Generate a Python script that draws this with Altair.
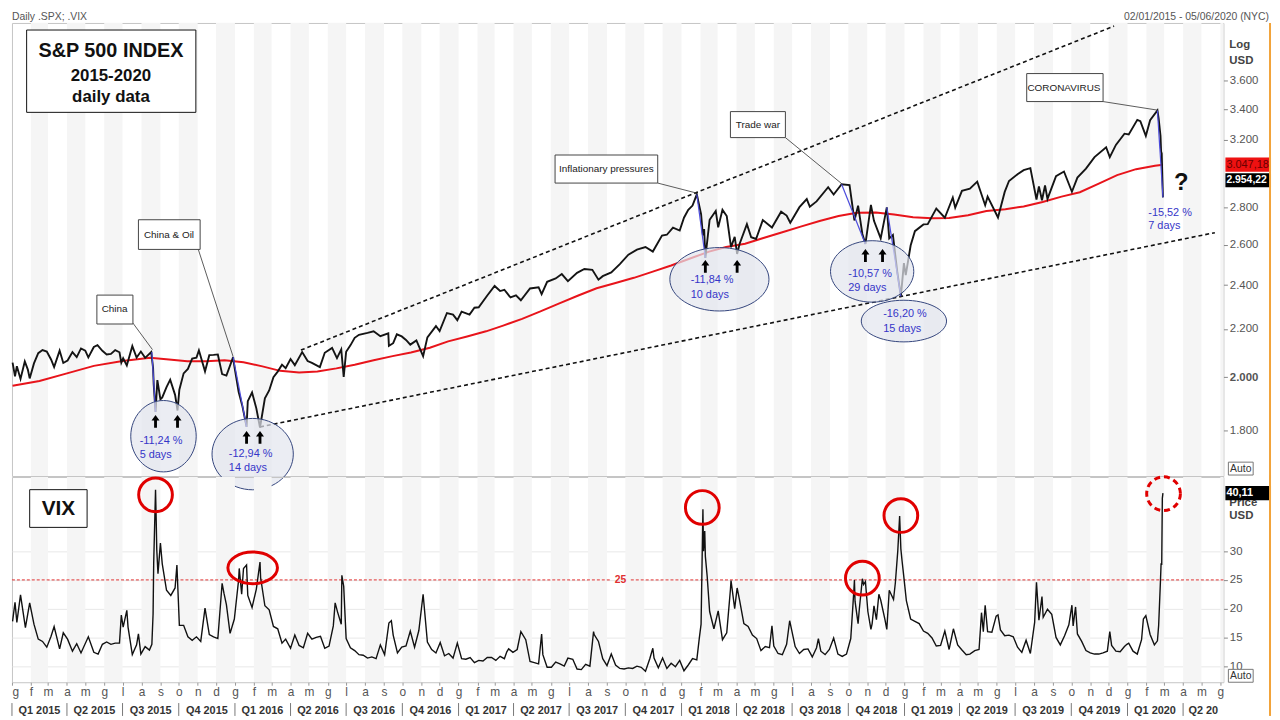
import altair as alt
import pandas as pd

# ---------------- series ----------------
spx_points = [
    ("2015-01-02", 2058), ("2015-01-06", 2003), ("2015-01-09", 2044), ("2015-01-15", 1993),
    ("2015-01-22", 2063), ("2015-01-27", 2030), ("2015-01-30", 1995), ("2015-02-06", 2055),
    ("2015-02-13", 2097), ("2015-02-20", 2110), ("2015-02-27", 2104), ("2015-03-06", 2071),
    ("2015-03-11", 2040), ("2015-03-20", 2108), ("2015-03-26", 2057), ("2015-04-02", 2067),
    ("2015-04-10", 2102), ("2015-04-17", 2081), ("2015-04-24", 2117), ("2015-05-01", 2108),
    ("2015-05-06", 2080), ("2015-05-15", 2123), ("2015-05-21", 2131), ("2015-05-29", 2107),
    ("2015-06-05", 2092), ("2015-06-12", 2094), ("2015-06-19", 2110), ("2015-06-26", 2101),
    ("2015-06-29", 2058), ("2015-07-02", 2076), ("2015-07-08", 2047), ("2015-07-17", 2127),
    ("2015-07-24", 2079), ("2015-07-31", 2104), ("2015-08-07", 2078), ("2015-08-17", 2102),
    ("2015-08-20", 2036), ("2015-08-21", 1971), ("2015-08-24", 1867), ("2015-08-27", 1988),
    ("2015-09-01", 1914), ("2015-09-04", 1921), ("2015-09-11", 1961), ("2015-09-17", 1990),
    ("2015-09-25", 1931), ("2015-09-29", 1872), ("2015-10-02", 1951), ("2015-10-09", 2015),
    ("2015-10-16", 2033), ("2015-10-23", 2075), ("2015-10-30", 2079), ("2015-11-03", 2109),
    ("2015-11-13", 2023), ("2015-11-20", 2089), ("2015-11-27", 2090), ("2015-12-04", 2092),
    ("2015-12-11", 2012), ("2015-12-18", 2006), ("2015-12-29", 2081), ("2015-12-31", 2044),
    ("2016-01-07", 1943), ("2016-01-13", 1890), ("2016-01-20", 1812), ("2016-01-22", 1907),
    ("2016-01-29", 1940), ("2016-02-05", 1880), ("2016-02-11", 1810), ("2016-02-19", 1918),
    ("2016-02-26", 1948), ("2016-03-04", 2000), ("2016-03-11", 2022), ("2016-03-18", 2050),
    ("2016-03-24", 2036), ("2016-04-01", 2073), ("2016-04-08", 2048), ("2016-04-20", 2102),
    ("2016-04-29", 2065), ("2016-05-06", 2057), ("2016-05-19", 2040), ("2016-05-27", 2099),
    ("2016-06-08", 2119), ("2016-06-16", 2077), ("2016-06-23", 2113), ("2016-06-27", 2001),
    ("2016-07-01", 2103), ("2016-07-08", 2130), ("2016-07-15", 2162), ("2016-07-22", 2175),
    ("2016-08-05", 2183), ("2016-08-15", 2190), ("2016-08-26", 2169), ("2016-09-08", 2181),
    ("2016-09-09", 2128), ("2016-09-16", 2139), ("2016-09-22", 2177), ("2016-09-30", 2168),
    ("2016-10-07", 2153), ("2016-10-14", 2133), ("2016-10-24", 2151), ("2016-11-04", 2085),
    ("2016-11-11", 2164), ("2016-11-25", 2213), ("2016-12-01", 2191), ("2016-12-13", 2271),
    ("2016-12-23", 2264), ("2016-12-30", 2239), ("2017-01-06", 2277), ("2017-01-19", 2264),
    ("2017-01-27", 2295), ("2017-02-03", 2297), ("2017-02-17", 2351), ("2017-03-01", 2396),
    ("2017-03-10", 2372), ("2017-03-17", 2378), ("2017-03-27", 2342), ("2017-04-05", 2352),
    ("2017-04-13", 2329), ("2017-04-28", 2384), ("2017-05-12", 2390), ("2017-05-17", 2357),
    ("2017-05-26", 2416), ("2017-06-09", 2432), ("2017-06-19", 2453), ("2017-06-29", 2419),
    ("2017-07-14", 2459), ("2017-07-26", 2478), ("2017-08-08", 2474), ("2017-08-18", 2426),
    ("2017-08-25", 2443), ("2017-09-08", 2461), ("2017-09-22", 2502), ("2017-10-06", 2549),
    ("2017-10-20", 2575), ("2017-11-03", 2588), ("2017-11-15", 2565), ("2017-11-30", 2648),
    ("2017-12-08", 2652), ("2017-12-18", 2690), ("2017-12-29", 2674), ("2018-01-05", 2743),
    ("2018-01-12", 2786), ("2018-01-19", 2810), ("2018-01-26", 2873), ("2018-02-02", 2762),
    ("2018-02-05", 2649), ("2018-02-07", 2682), ("2018-02-09", 2533), ("2018-02-16", 2732),
    ("2018-02-26", 2780), ("2018-03-02", 2691), ("2018-03-09", 2786), ("2018-03-16", 2752),
    ("2018-03-23", 2588), ("2018-03-29", 2641), ("2018-04-02", 2553), ("2018-04-06", 2604),
    ("2018-04-18", 2708), ("2018-04-25", 2639), ("2018-05-03", 2630), ("2018-05-14", 2730),
    ("2018-05-29", 2690), ("2018-06-13", 2776), ("2018-06-22", 2755), ("2018-06-28", 2716),
    ("2018-07-13", 2801), ("2018-07-25", 2846), ("2018-07-30", 2803), ("2018-08-10", 2833),
    ("2018-08-29", 2914), ("2018-09-07", 2872), ("2018-09-20", 2931), ("2018-10-03", 2926),
    ("2018-10-11", 2728), ("2018-10-17", 2809), ("2018-10-24", 2656), ("2018-10-29", 2604),
    ("2018-11-07", 2814), ("2018-11-12", 2726), ("2018-11-23", 2633), ("2018-12-03", 2800),
    ("2018-12-07", 2633), ("2018-12-13", 2651), ("2018-12-20", 2467), ("2018-12-26", 2347),
    ("2018-12-31", 2507), ("2019-01-03", 2448), ("2019-01-11", 2596), ("2019-01-18", 2671),
    ("2019-02-01", 2707), ("2019-02-08", 2708), ("2019-02-22", 2793), ("2019-03-08", 2743),
    ("2019-03-21", 2855), ("2019-03-25", 2798), ("2019-04-05", 2893), ("2019-04-18", 2905),
    ("2019-04-30", 2946), ("2019-05-13", 2812), ("2019-05-17", 2860), ("2019-06-03", 2744),
    ("2019-06-14", 2887), ("2019-06-21", 2950), ("2019-07-05", 2990), ("2019-07-15", 3014),
    ("2019-07-26", 3026), ("2019-08-05", 2844), ("2019-08-09", 2919), ("2019-08-14", 2840),
    ("2019-08-19", 2924), ("2019-08-23", 2847), ("2019-09-06", 2979), ("2019-09-19", 3006),
    ("2019-10-02", 2888), ("2019-10-11", 2970), ("2019-10-25", 3023), ("2019-11-08", 3093),
    ("2019-11-27", 3154), ("2019-12-03", 3093), ("2019-12-13", 3169), ("2019-12-27", 3240),
    ("2020-01-03", 3235), ("2020-01-17", 3330), ("2020-01-22", 3321), ("2020-01-31", 3226),
    ("2020-02-07", 3328), ("2020-02-19", 3393), ("2020-02-21", 3338), ("2020-02-24", 3226),
    ("2020-02-25", 3128), ("2020-02-26", 3116), ("2020-02-27", 2979), ("2020-02-28", 2856),
]

ma200_points = [
    ("2015-01-02", 1966), ("2015-02-15", 1985), ("2015-04-01", 2015), ("2015-05-15", 2045),
    ("2015-07-01", 2065), ("2015-08-15", 2078), ("2015-09-15", 2071), ("2015-10-15", 2064),
    ("2015-11-15", 2064), ("2015-12-15", 2068), ("2016-01-15", 2060), ("2016-02-15", 2043),
    ("2016-03-15", 2025), ("2016-04-15", 2018), ("2016-05-15", 2022), ("2016-06-15", 2035),
    ("2016-07-15", 2050), ("2016-08-15", 2068), ("2016-09-15", 2085), ("2016-10-15", 2100),
    ("2016-11-15", 2120), ("2016-12-15", 2147), ("2017-01-15", 2168), ("2017-02-15", 2190),
    ("2017-03-15", 2215), ("2017-04-15", 2245), ("2017-05-15", 2278), ("2017-06-15", 2315),
    ("2017-07-15", 2350), ("2017-08-15", 2385), ("2017-09-15", 2410), ("2017-10-15", 2435),
    ("2017-11-15", 2465), ("2017-12-15", 2495), ("2018-01-15", 2530), ("2018-02-15", 2565),
    ("2018-03-15", 2588), ("2018-04-15", 2605), ("2018-05-15", 2635), ("2018-06-15", 2665),
    ("2018-07-15", 2695), ("2018-08-15", 2725), ("2018-09-15", 2752), ("2018-10-15", 2770),
    ("2018-11-15", 2772), ("2018-12-15", 2760), ("2019-01-15", 2745), ("2019-02-15", 2740),
    ("2019-03-15", 2742), ("2019-04-15", 2757), ("2019-05-15", 2780), ("2019-06-15", 2790),
    ("2019-07-15", 2805), ("2019-08-15", 2830), ("2019-09-15", 2860), ("2019-10-15", 2885),
    ("2019-11-15", 2935), ("2019-12-15", 2985), ("2020-01-15", 3020), ("2020-02-15", 3040),
    ("2020-02-28", 3047),
]

vix_points = [
    ("2015-01-02", 17.8), ("2015-01-06", 21.1), ("2015-01-09", 17.6), ("2015-01-15", 22.4),
    ("2015-01-23", 16.7), ("2015-01-30", 21.0), ("2015-02-06", 17.3), ("2015-02-13", 14.7),
    ("2015-02-20", 14.3), ("2015-02-27", 13.3), ("2015-03-06", 15.2), ("2015-03-11", 16.9),
    ("2015-03-20", 13.0), ("2015-03-26", 15.8), ("2015-04-02", 14.7), ("2015-04-10", 12.6),
    ("2015-04-17", 13.9), ("2015-04-24", 12.3), ("2015-05-06", 15.1), ("2015-05-15", 12.4),
    ("2015-05-22", 12.1), ("2015-05-29", 13.8), ("2015-06-05", 14.2), ("2015-06-12", 13.8),
    ("2015-06-19", 14.0), ("2015-06-26", 14.0), ("2015-06-29", 18.9), ("2015-07-02", 16.8),
    ("2015-07-08", 19.7), ("2015-07-10", 16.8), ("2015-07-17", 12.0), ("2015-07-24", 13.7),
    ("2015-07-27", 15.6), ("2015-07-31", 12.1), ("2015-08-07", 13.4), ("2015-08-14", 12.8),
    ("2015-08-18", 13.8), ("2015-08-20", 19.1), ("2015-08-21", 28.0), ("2015-08-24", 40.7),
    ("2015-08-25", 36.0), ("2015-08-26", 30.3), ("2015-08-28", 26.1), ("2015-09-01", 31.4),
    ("2015-09-04", 27.8), ("2015-09-11", 23.2), ("2015-09-18", 22.3), ("2015-09-25", 23.6),
    ("2015-09-28", 27.6), ("2015-10-02", 17.1), ("2015-10-09", 17.1), ("2015-10-16", 15.1),
    ("2015-10-23", 14.5), ("2015-10-30", 15.1), ("2015-11-06", 14.3), ("2015-11-13", 20.1),
    ("2015-11-20", 15.5), ("2015-11-27", 15.1), ("2015-12-04", 14.8), ("2015-12-11", 24.4),
    ("2015-12-14", 22.7), ("2015-12-18", 20.7), ("2015-12-24", 15.7), ("2015-12-31", 18.2),
    ("2016-01-07", 25.0), ("2016-01-08", 27.0), ("2016-01-12", 22.5), ("2016-01-15", 27.0),
    ("2016-01-20", 27.6), ("2016-01-22", 22.3), ("2016-01-29", 20.2), ("2016-02-05", 23.4),
    ("2016-02-11", 28.1), ("2016-02-12", 25.4), ("2016-02-19", 20.5), ("2016-02-26", 19.8),
    ("2016-03-04", 16.9), ("2016-03-11", 16.5), ("2016-03-18", 14.0), ("2016-03-24", 14.7),
    ("2016-04-01", 13.1), ("2016-04-08", 15.4), ("2016-04-15", 13.6), ("2016-04-22", 13.2),
    ("2016-04-29", 15.7), ("2016-05-06", 14.7), ("2016-05-13", 15.0), ("2016-05-20", 15.2),
    ("2016-05-27", 13.1), ("2016-06-03", 13.5), ("2016-06-10", 17.0), ("2016-06-13", 21.0),
    ("2016-06-17", 19.4), ("2016-06-23", 17.3), ("2016-06-24", 25.8), ("2016-06-27", 23.9),
    ("2016-07-01", 14.8), ("2016-07-08", 13.2), ("2016-07-15", 12.7), ("2016-07-22", 12.0),
    ("2016-07-29", 11.9), ("2016-08-05", 11.4), ("2016-08-12", 11.6), ("2016-08-19", 11.3),
    ("2016-08-26", 13.7), ("2016-09-02", 12.0), ("2016-09-09", 17.5), ("2016-09-13", 17.9),
    ("2016-09-16", 15.4), ("2016-09-23", 12.3), ("2016-09-30", 13.3), ("2016-10-07", 13.5),
    ("2016-10-14", 16.1), ("2016-10-21", 13.3), ("2016-10-28", 16.2), ("2016-11-04", 22.5),
    ("2016-11-11", 14.2), ("2016-11-18", 12.9), ("2016-11-25", 12.3), ("2016-12-02", 14.1),
    ("2016-12-09", 11.8), ("2016-12-16", 12.2), ("2016-12-23", 11.4), ("2016-12-30", 14.0),
    ("2017-01-06", 11.3), ("2017-01-13", 11.2), ("2017-01-20", 11.5), ("2017-01-27", 10.6),
    ("2017-02-03", 11.0), ("2017-02-10", 10.9), ("2017-02-17", 11.5), ("2017-02-24", 11.5),
    ("2017-03-03", 11.0), ("2017-03-10", 11.7), ("2017-03-17", 11.3), ("2017-03-21", 12.5),
    ("2017-03-24", 13.0), ("2017-03-31", 12.4), ("2017-04-07", 12.9), ("2017-04-13", 16.0),
    ("2017-04-21", 14.6), ("2017-04-28", 10.8), ("2017-05-05", 10.6), ("2017-05-12", 10.4),
    ("2017-05-17", 15.6), ("2017-05-19", 12.0), ("2017-05-26", 9.8), ("2017-06-02", 9.8),
    ("2017-06-09", 10.7), ("2017-06-16", 10.4), ("2017-06-23", 10.0), ("2017-06-29", 11.4),
    ("2017-07-07", 11.2), ("2017-07-14", 9.5), ("2017-07-21", 9.4), ("2017-07-28", 10.3),
    ("2017-08-04", 10.0), ("2017-08-10", 16.0), ("2017-08-11", 15.5), ("2017-08-18", 14.3),
    ("2017-08-25", 11.3), ("2017-09-01", 10.1), ("2017-09-08", 12.1), ("2017-09-15", 10.2),
    ("2017-09-22", 9.6), ("2017-09-29", 9.5), ("2017-10-06", 9.7), ("2017-10-13", 9.6),
    ("2017-10-20", 10.0), ("2017-10-27", 9.8), ("2017-11-03", 9.1), ("2017-11-10", 11.3),
    ("2017-11-15", 13.1), ("2017-11-17", 11.4), ("2017-11-24", 9.7), ("2017-12-01", 11.4),
    ("2017-12-08", 9.6), ("2017-12-15", 10.5), ("2017-12-22", 9.9), ("2017-12-29", 11.0),
    ("2018-01-05", 9.2), ("2018-01-12", 10.2), ("2018-01-19", 11.3), ("2018-01-26", 11.1),
    ("2018-01-30", 14.8), ("2018-02-02", 17.3), ("2018-02-05", 37.3), ("2018-02-06", 30.0),
    ("2018-02-08", 33.5), ("2018-02-09", 29.1), ("2018-02-12", 25.6), ("2018-02-16", 19.5),
    ("2018-02-23", 16.5), ("2018-03-02", 19.6), ("2018-03-09", 14.6), ("2018-03-16", 15.8),
    ("2018-03-22", 23.3), ("2018-03-23", 24.9), ("2018-03-29", 20.0), ("2018-04-02", 23.6),
    ("2018-04-06", 21.5), ("2018-04-13", 17.4), ("2018-04-20", 16.9), ("2018-04-27", 15.4),
    ("2018-05-04", 14.8), ("2018-05-11", 12.7), ("2018-05-18", 13.4), ("2018-05-25", 13.2),
    ("2018-05-29", 17.0), ("2018-06-01", 13.5), ("2018-06-08", 12.2), ("2018-06-15", 12.0),
    ("2018-06-22", 13.8), ("2018-06-27", 17.9), ("2018-07-06", 13.4), ("2018-07-13", 12.2),
    ("2018-07-20", 12.9), ("2018-07-27", 13.0), ("2018-08-03", 11.6), ("2018-08-10", 13.2),
    ("2018-08-13", 14.8), ("2018-08-17", 12.6), ("2018-08-24", 12.0), ("2018-08-31", 12.9),
    ("2018-09-07", 14.9), ("2018-09-14", 12.1), ("2018-09-21", 11.7), ("2018-09-28", 12.1),
    ("2018-10-05", 14.8), ("2018-10-10", 23.0), ("2018-10-11", 25.0), ("2018-10-12", 21.3),
    ("2018-10-17", 17.4), ("2018-10-19", 19.9), ("2018-10-24", 25.2), ("2018-10-26", 24.2),
    ("2018-10-29", 24.7), ("2018-11-02", 19.5), ("2018-11-07", 16.4), ("2018-11-09", 17.4),
    ("2018-11-12", 20.5), ("2018-11-16", 18.1), ("2018-11-20", 22.5), ("2018-11-23", 21.5),
    ("2018-11-30", 18.1), ("2018-12-03", 16.4), ("2018-12-07", 23.2), ("2018-12-14", 21.6),
    ("2018-12-17", 24.5), ("2018-12-21", 30.1), ("2018-12-24", 36.1), ("2018-12-26", 30.4),
    ("2018-12-28", 28.3), ("2018-12-31", 25.4), ("2019-01-04", 21.4), ("2019-01-11", 18.2),
    ("2019-01-18", 17.8), ("2019-01-25", 17.4), ("2019-02-01", 16.1), ("2019-02-08", 15.7),
    ("2019-02-15", 14.9), ("2019-02-22", 13.5), ("2019-03-01", 13.6), ("2019-03-08", 16.1),
    ("2019-03-15", 12.9), ("2019-03-22", 16.5), ("2019-03-29", 13.7), ("2019-04-05", 12.8),
    ("2019-04-12", 12.0), ("2019-04-18", 12.1), ("2019-04-26", 12.7), ("2019-05-03", 12.9),
    ("2019-05-07", 19.3), ("2019-05-10", 16.0), ("2019-05-13", 20.6), ("2019-05-17", 16.0),
    ("2019-05-24", 15.9), ("2019-05-31", 18.7), ("2019-06-03", 18.9), ("2019-06-07", 16.3),
    ("2019-06-14", 15.3), ("2019-06-21", 15.4), ("2019-06-28", 15.1), ("2019-07-05", 13.3),
    ("2019-07-12", 12.4), ("2019-07-19", 14.5), ("2019-07-26", 12.2), ("2019-07-31", 16.1),
    ("2019-08-02", 17.6), ("2019-08-05", 24.6), ("2019-08-09", 18.0), ("2019-08-14", 22.1),
    ("2019-08-16", 18.5), ("2019-08-23", 19.9), ("2019-08-30", 19.0), ("2019-09-06", 15.0),
    ("2019-09-13", 13.7), ("2019-09-20", 15.3), ("2019-09-27", 17.2), ("2019-10-02", 20.6),
    ("2019-10-04", 17.0), ("2019-10-08", 20.3), ("2019-10-11", 15.6), ("2019-10-18", 14.3),
    ("2019-10-25", 12.7), ("2019-11-01", 12.3), ("2019-11-08", 12.1), ("2019-11-15", 12.1),
    ("2019-11-22", 12.3), ("2019-11-29", 12.6), ("2019-12-03", 16.0), ("2019-12-06", 13.6),
    ("2019-12-13", 12.6), ("2019-12-20", 12.5), ("2019-12-27", 13.4), ("2019-12-31", 13.8),
    ("2020-01-03", 14.0), ("2020-01-10", 12.6), ("2020-01-17", 12.1), ("2020-01-24", 14.6),
    ("2020-01-27", 18.2), ("2020-01-31", 18.8), ("2020-02-07", 15.5), ("2020-02-14", 13.7),
    ("2020-02-19", 14.4), ("2020-02-21", 17.1), ("2020-02-24", 25.0), ("2020-02-25", 27.9),
    ("2020-02-26", 27.6), ("2020-02-27", 39.2), ("2020-02-28", 40.1),
]

# ---------------- labels and annotation values ----------------
month_letters = ["g", "f", "m", "a", "m", "g", "l", "a", "s", "o", "n", "d"]
quarter_labels = ["Q1 2015", "Q2 2015", "Q3 2015", "Q4 2015", "Q1 2016", "Q2 2016",
                  "Q3 2016", "Q4 2016", "Q1 2017", "Q2 2017", "Q3 2017", "Q4 2017",
                  "Q1 2018", "Q2 2018", "Q3 2018", "Q4 2018", "Q1 2019", "Q2 2019",
                  "Q3 2019", "Q4 2019", "Q1 2020", "Q2 20"]
spx_ticks = [1800, 2000, 2200, 2400, 2600, 2800, 3200, 3400, 3600]
vix_ticks = [10, 15, 20, 25, 30]

last_close = 2954.22
last_close_text = "2.954,22"
last_ma = 3047.18
last_ma_text = "3.047,18"
last_vix = 40.11
last_vix_text = "40,11"

channel_lines = [("2016-04-18", 2110, "2019-12-10", 4010),
                 ("2016-02-11", 1812, "2020-05-23", 2663)]
drop_legs = [("2015-08-18", 2102, "2015-08-24", 1867),
             ("2015-12-29", 2081, "2016-01-20", 1812),
             ("2018-01-26", 2873, "2018-02-09", 2533),
             ("2018-09-20", 2931, "2018-10-29", 2604),
             ("2018-12-03", 2800, "2018-12-26", 2347),
             ("2020-02-19", 3393, "2020-02-28", 2856)]
drop_pct_text = ["-11,24 %", "-12,94 %", "-11,84 %", "-10,57 %", "-16,20 %", "-15,52 %"]
drop_days_text = ["5 days", "14 days", "10 days", "29 days", "15 days", "7 days"]
drop_text_pos = [("2015-07-29", 1761, 1714), ("2015-12-22", 1717, 1670),
                 ("2018-01-16", 2423, 2353), ("2018-10-01", 2452, 2385),
                 ("2018-11-27", 2266, 2200), ("2020-02-04", 2770, 2700)]
trough_arrows = [("2015-08-24", 1832), ("2015-09-29", 1832), ("2016-01-20", 1775),
                 ("2016-02-11", 1775), ("2018-02-09", 2491), ("2018-04-02", 2491),
                 ("2018-10-29", 2545), ("2018-11-26", 2545)]
event_boxes = [
    ("China", "2015-05-20", "2015-07-18", 2222, 2353, "2015-06-18", 2289, "2015-08-19", 2112, "2015-07-18", 2226),
    ("China & Oil", "2015-07-27", "2015-11-05", 2576, 2732, "2015-09-15", 2653, "2015-12-29", 2083, "2015-11-02", 2576),
    ("Inflationary pressures", "2017-06-08", "2017-11-23", 2938, 3106, "2017-08-31", 3021, "2018-01-26", 2880, "2017-11-23", 2938),
    ("Trade war", "2018-03-22", "2018-06-20", 3215, 3385, "2018-05-06", 3298, "2018-09-20", 2935, "2018-06-20", 3215),
    ("CORONAVIRUS", "2019-07-20", "2019-11-22", 3453, 3650, "2019-09-19", 3550, "2020-02-19", 3395, "2019-11-22", 3453),
]

# ---------------- layout constants ----------------
W, H1, H2 = 1222, 457, 207
FN = "Liberation Sans, Arial, sans-serif"
FB = "Liberation Sans, Arial, sans-serif"

xs = alt.Scale(type="utc", domain=[alt.DateTime(year=2015, month=1, date=1, utc=True),
                                   alt.DateTime(year=2020, month=6, date=6, utc=True)])
ys1 = alt.Scale(type="log", domain=[1644, 4035], nice=False)
ys2 = alt.Scale(type="linear", domain=[7.2, 42.9], nice=False, zero=False)

AX_Y1 = alt.Axis(orient="right", values=spx_ticks,
                 labelExpr="replace(format(datum.value, ','), ',', '.')",
                 tickSize=4, tickColor="#888", labelColor="#555", labelFontSize=11.5, labelFont=FN,
                 labelPadding=2, domain=False, grid=False, title=None,
                 labelFontWeight={"condition": {"test": "datum.value == 2000", "value": "bold"},
                                  "value": "normal"})
AX_Y2 = alt.Axis(orient="right", values=vix_ticks, tickSize=4, tickColor="#888", labelColor="#555",
                 labelFontSize=11.5, labelFont=FN, labelPadding=2, domain=False, grid=True,
                 gridColor="#e8e8e8", title=None)
month_expr = "[" + ",".join(f"'{m}'" for m in month_letters) + "][utcmonth(datum.value)]"
AX_X2 = alt.Axis(orient="bottom", tickCount={"interval": "month", "step": 1}, labelExpr=month_expr,
                 labelFlush=True, labelOverlap=False, labelBound=False, tickSize=3, tickColor="#999",
                 labelColor="#555", labelFontSize=12, labelFont=FN, labelPadding=1, domain=False,
                 grid=False, title=None)


def X1(f="date"):
    return alt.X(f"{f}:T", scale=xs, axis=None)


def X2(f="date"):
    return alt.X(f"{f}:T", scale=xs, axis=AX_X2)


def Y1(f="v"):
    return alt.Y(f"{f}:Q", scale=ys1, axis=AX_Y1)


def Y2(f="v"):
    return alt.Y(f"{f}:Q", scale=ys2, axis=AX_Y2)


def ell_path(k):
    c = 0.5523
    return (f"M -1 0 C -1 {-c*k:.4f} {-c} {-k:.4f} 0 {-k:.4f} C {c} {-k:.4f} 1 {-c*k:.4f} 1 0 "
            f"C 1 {c*k:.4f} {c} {k:.4f} 0 {k:.4f} C {-c} {k:.4f} -1 {c*k:.4f} -1 0 Z")


ARROW = "M -0.22 1 L 0.22 1 L 0.22 -0.15 L 0.62 -0.15 L 0 -1 L -0.62 -0.15 L -0.22 -0.15 Z"
TAG = "M -1 -0.31 L 1 -0.31 L 1 0.31 L -1 0.31 Z"


def one(**cols):
    return pd.DataFrame({k: [v] for k, v in cols.items()})


def ptext(t, x, y, **kw):
    return alt.Chart(one(t=t)).mark_text(**kw).encode(x=alt.value(x), y=alt.value(y), text="t:N")


months = pd.date_range("2015-01-01", "2020-07-01", freq="MS")
stripe_df = pd.DataFrame({"start": months[1:-1:2].strftime("%Y-%m-%d"),
                          "end": months[2::2].strftime("%Y-%m-%d")})


def stripes(Xf):
    return alt.Chart(stripe_df).mark_rect(color="#f5f5f5", clip=True).encode(x=Xf("start"), x2="end:T")


# ---------------- top panel ----------------
spx_df = pd.DataFrame(spx_points, columns=["date", "v"])
ma_df = pd.DataFrame(ma200_points, columns=["date", "v"])
chan_df = pd.DataFrame(channel_lines, columns=["d1", "v1", "d2", "v2"])
legs_df = pd.DataFrame(drop_legs, columns=["d1", "v1", "d2", "v2"])
box_df = pd.DataFrame(event_boxes, columns=["t", "x1", "x2", "lo", "hi", "td", "tv", "ld", "lv", "sd", "sv"])
pos_df = pd.DataFrame(drop_text_pos, columns=["date", "v1", "v2"])
pos_df["pct"] = drop_pct_text
pos_df["days"] = drop_days_text
arrow_df = pd.DataFrame(trough_arrows, columns=["date", "v"])

top_layers = [stripes(X1)]
top_layers.append(alt.Chart(chan_df).mark_rule(color="#111", strokeWidth=1.6, strokeDash=[4, 3]).encode(
    x=X1("d1"), y=Y1("v1"), x2="d2:T", y2="v2:Q"))
top_layers.append(alt.Chart(ma_df).mark_line(color="#e8141b", strokeWidth=2).encode(x=X1(), y=Y1()))
top_layers.append(alt.Chart(spx_df).mark_line(color="#141414", strokeWidth=1.9).encode(x=X1(), y=Y1()))
top_layers.append(alt.Chart(legs_df).mark_rule(color="#4b4bdc", strokeWidth=1.2).encode(
    x=X1("d1"), y=Y1("v1"), x2="d2:T", y2="v2:Q"))

top_layers.append(alt.Chart(box_df).mark_rule(color="#333", strokeWidth=0.8).encode(
    x=X1("sd"), y=Y1("sv"), x2="ld:T", y2="lv:Q"))
top_layers.append(alt.Chart(box_df).mark_rect(fill="white", stroke="#444", strokeWidth=1).encode(
    x=X1("x1"), x2="x2:T", y=Y1("lo"), y2="hi:Q"))
top_layers.append(alt.Chart(box_df).mark_text(font=FN, fontSize=10, color="#222").encode(
    x=X1("td"), y=Y1("tv"), text="t:N"))

ellipses = [("2015-09-06", 1779, 33, 36), ("2016-01-30", 1717, 41, 36),
            ("2018-03-04", 2428, 50, 32), ("2018-11-09", 2466, 42, 31),
            ("2018-12-31", 2235, 43, 21)]
for d, v, rx, ry in ellipses:
    top_layers.append(alt.Chart(one(date=d, v=v)).mark_point(
        shape=ell_path(ry / rx), size=(2 * rx) ** 2, filled=True, fill="#e3e6ee", fillOpacity=0.7,
        stroke="#34457c", strokeWidth=1, opacity=1).encode(x=X1(), y=Y1()))

top_layers.append(alt.Chart(pos_df).mark_text(align="left", font=FN, fontSize=11, color="#3535c8").encode(
    x=X1(), y=Y1("v1"), text="pct:N"))
top_layers.append(alt.Chart(pos_df).mark_text(align="left", font=FN, fontSize=11, color="#3535c8").encode(
    x=X1(), y=Y1("v2"), text="days:N"))
top_layers.append(alt.Chart(arrow_df).mark_point(shape=ARROW, size=169, filled=True, color="#000",
                                                 opacity=1).encode(x=X1(), y=Y1()))
top_layers.append(alt.Chart(one(date="2020-03-29", v=2938, t="?")).mark_text(
    font=FB, fontSize=24, fontWeight="bold", color="#111").encode(x=X1(), y=Y1(), text="t:N"))

top_layers.append(alt.Chart(one(x1="2015-01-25", x2="2015-10-29", lo=3380, hi=3979)).mark_rect(
    fill="white", stroke="#111", strokeWidth=1).encode(x=X1("x1"), x2="x2:T", y=Y1("lo"), y2="hi:Q"))
for t, v, fs in [("S&P 500 INDEX", 3818, 20), ("2015-2020", 3635, 17), ("daily data", 3481, 17)]:
    top_layers.append(alt.Chart(one(date="2015-06-12", v=v, t=t)).mark_text(
        font=FB, fontSize=fs, fontWeight="bold", color="#111").encode(x=X1(), y=Y1(), text="t:N"))

top_layers.append(ptext("Log", W + 6, 22, align="left", font=FN, fontSize=11.5, fontWeight="bold", color="#444"))
top_layers.append(ptext("USD", W + 6, 38, align="left", font=FN, fontSize=11.5, fontWeight="bold", color="#444"))
top_layers.append(alt.Chart(one(v=last_ma)).mark_point(shape=TAG, size=46 ** 2, filled=True, fill="#ee1111",
                                                       strokeWidth=0, opacity=1).encode(
    x=alt.value(W + 25), y=Y1()))
top_layers.append(alt.Chart(one(v=last_close)).mark_point(shape=TAG, size=46 ** 2, filled=True, fill="#000",
                                                          strokeWidth=0, opacity=1).encode(
    x=alt.value(W + 25), y=Y1()))
top_layers.append(alt.Chart(one(v=last_ma, t=last_ma_text)).mark_text(
    align="left", font=FN, fontSize=11, color="#6a0000").encode(x=alt.value(W + 3), y=Y1(), text="t:N"))
top_layers.append(alt.Chart(one(v=last_close, t=last_close_text)).mark_text(
    align="left", font=FN, fontSize=10.5, fontWeight="bold", color="#fff").encode(
    x=alt.value(W + 3), y=Y1(), text="t:N"))
top_layers.append(alt.Chart(one(a=1)).mark_rect(fill="white", stroke="#777", strokeWidth=1).encode(
    x=alt.value(W + 5), x2=alt.value(W + 30), y=alt.value(H1 - 14), y2=alt.value(H1 - 1)))
top_layers.append(ptext("Auto", W + 17.5, H1 - 7.5, font=FN, fontSize=10.5, color="#333"))
top_layers.append(ptext("Daily .SPX; .VIX", 0, -1, align="left", baseline="bottom", font=FN, fontSize=10.5,
                        color="#555"))
top_layers.append(ptext("02/01/2015 - 05/06/2020 (NYC)", W + 46, -1, align="right", baseline="bottom",
                        font=FN, fontSize=10.5, color="#555"))
top_layers.append(alt.Chart(one(a=1)).mark_rule(color="#f2a33a", strokeWidth=2).encode(
    x=alt.value(W + 47), y=alt.value(0), y2=alt.value(H1 + 2)))

top = alt.layer(*top_layers).properties(width=W, height=H1)

# ---------------- bottom panel (VIX) ----------------
vix_df = pd.DataFrame(vix_points, columns=["date", "v"])

q_starts = pd.date_range("2015-01-01", "2020-04-01", freq="QS")
q_ends = list(q_starts[1:]) + [pd.Timestamp("2020-06-06")]
q_df = pd.DataFrame({
    "start": q_starts.strftime("%Y-%m-%d"),
    "mid": [(s + (e - s) / 2).strftime("%Y-%m-%d") for s, e in zip(q_starts, q_ends)],
    "label": quarter_labels,
})

bot_layers = [stripes(X2)]
bot_layers.append(alt.Chart(pd.DataFrame({"d1": ["2015-01-01", "2017-10-10"], "d2": ["2017-09-08", "2020-06-06"],
                                          "v": [25, 25]})).mark_rule(
    color="#e03030", strokeWidth=1, strokeDash=[3, 2]).encode(x=X2("d1"), x2="d2:T", y=Y2()))
bot_layers.append(alt.Chart(one(date="2017-09-23", v=25, t="25")).mark_text(
    font=FN, fontSize=10.5, fontWeight="bold", color="#e03030").encode(x=X2(), y=Y2(), text="t:N"))
bot_layers.append(alt.Chart(vix_df).mark_line(color="#111", strokeWidth=1.4).encode(x=X2(), y=Y2()))

circles = [("2015-08-24", 39.8, []), ("2018-02-04", 37.6, []), ("2018-10-24", 25.3, []),
           ("2018-12-26", 36.2, []), ("2020-02-29", 40.0, [6, 4])]
for d, v, dash in circles:
    kw = {"strokeDash": dash} if dash else {}
    bot_layers.append(alt.Chart(one(date=d, v=v)).mark_point(
        shape="circle", size=34 ** 2, filled=False, color="#e00000", strokeWidth=3, opacity=1, **kw).encode(
        x=X2(), y=Y2()))
bot_layers.append(alt.Chart(one(date="2016-01-30", v=27.1)).mark_point(
    shape=ell_path(16 / 25), size=50 ** 2, filled=False, color="#e00000", strokeWidth=3, opacity=1).encode(
    x=X2(), y=Y2()))

bot_layers.append(alt.Chart(one(x1="2015-01-30", x2="2015-05-04", lo=34.14, hi=40.7)).mark_rect(
    fill="white", stroke="#111", strokeWidth=1).encode(x=X2("x1"), x2="x2:T", y=Y2("lo"), y2="hi:Q"))
bot_layers.append(alt.Chart(one(date="2015-03-18", v=37.4, t="VIX")).mark_text(
    font=FB, fontSize=21, fontWeight="bold", color="#111").encode(x=X2(), y=Y2(), text="t:N"))

bot_layers.append(ptext("Price", W + 6, 26, align="left", font=FN, fontSize=11.5, fontWeight="bold", color="#444"))
bot_layers.append(ptext("USD", W + 6, 39, align="left", font=FN, fontSize=11.5, fontWeight="bold", color="#444"))
bot_layers.append(alt.Chart(one(v=last_vix)).mark_point(shape=TAG, size=46 ** 2, filled=True, fill="#000",
                                                        strokeWidth=0, opacity=1).encode(
    x=alt.value(W + 25), y=Y2()))
bot_layers.append(alt.Chart(one(v=last_vix, t=last_vix_text)).mark_text(
    align="left", font=FN, fontSize=11, fontWeight="bold", color="#fff").encode(
    x=alt.value(W + 3), y=Y2(), text="t:N"))
bot_layers.append(alt.Chart(one(a=1)).mark_rect(fill="white", stroke="#777", strokeWidth=1).encode(
    x=alt.value(W + 5), x2=alt.value(W + 30), y=alt.value(H2 - 13), y2=alt.value(H2)))
bot_layers.append(ptext("Auto", W + 17.5, H2 - 6.5, font=FN, fontSize=10.5, color="#333"))

bot_layers.append(alt.Chart(q_df).mark_rule(color="#777", strokeWidth=1).encode(
    x=X2("start"), y=alt.value(H2 + 21), y2=alt.value(H2 + 34)))
bot_layers.append(alt.Chart(q_df).mark_text(font=FN, fontSize=11, fontWeight="bold", color="#333",
                                            baseline="alphabetic").encode(
    x=X2("mid"), y=alt.value(H2 + 32), text="label:N"))
bot_layers.append(alt.Chart(one(a=1)).mark_rule(color="#f2a33a", strokeWidth=2).encode(
    x=alt.value(W + 47), y=alt.value(-2), y2=alt.value(H2 + 34)))

bottom = alt.layer(*bot_layers).properties(width=W, height=H2)

chart = alt.vconcat(top, bottom, spacing=1, bounds="flush").resolve_scale(
    x="independent", y="independent").properties(
    padding={"left": 0, "top": 0, "right": 0, "bottom": 0}, background="white").configure_view(
    stroke="#c4c4c4")

chart.save("out.html", embed_options={"renderer": "svg", "actions": False})
